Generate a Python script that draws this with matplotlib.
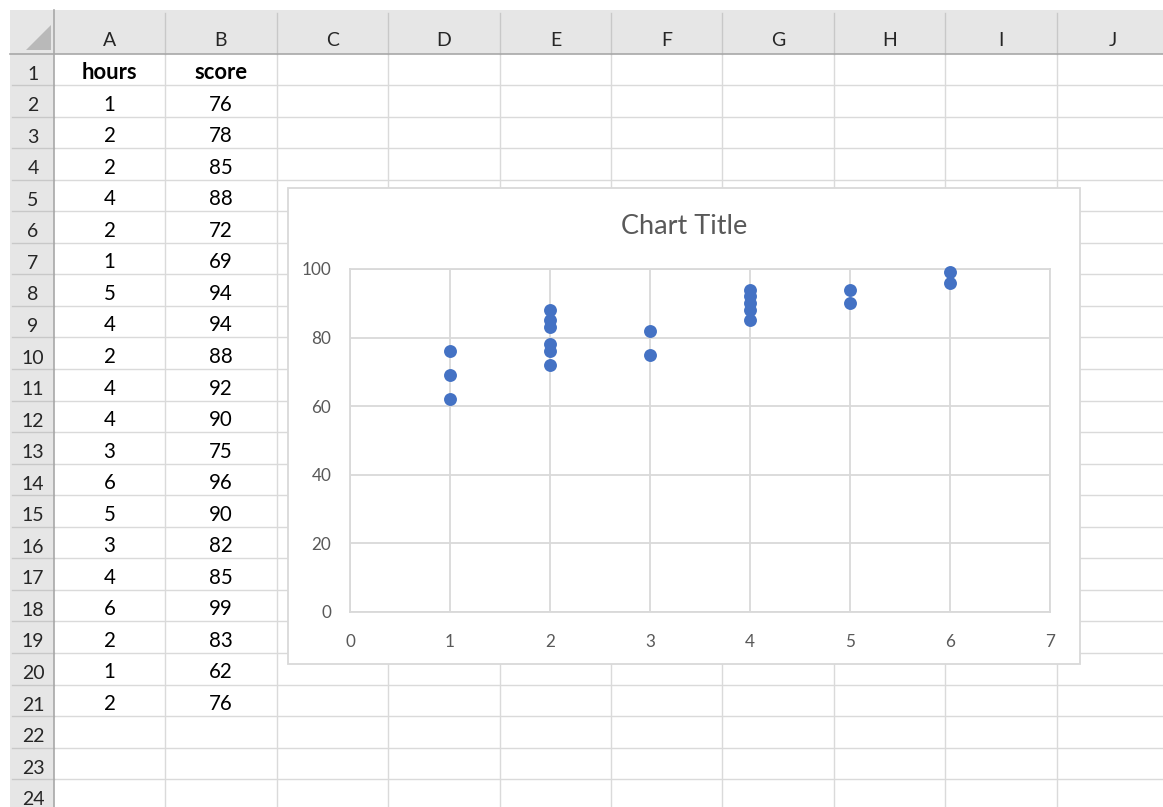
import matplotlib
matplotlib.use("Agg")
import matplotlib.pyplot as plt
from matplotlib.patches import Rectangle, Polygon

# Worksheet contents
col_letters = ["A", "B", "C", "D", "E", "F", "G", "H", "I", "J"]
header_row = ["hours", "score"]
hours = [1, 2, 2, 4, 2, 1, 5, 4, 2, 4, 4, 3, 6, 5, 3, 4, 6, 2, 1, 2]
score = [76, 78, 85, 88, 72, 69, 94, 94, 88, 92, 90, 75, 96, 90, 82, 85, 99, 83, 62, 76]
n_rows = 24
x_ticks = [0, 1, 2, 3, 4, 5, 6, 7]
y_ticks = [0, 20, 40, 60, 80, 100]
chart_title = "Chart Title"

W, H = 1163, 807
FONT = ["Lato", "DejaVu Sans"]

fig = plt.figure(figsize=(W / 100, H / 100), dpi=100)
fig.patch.set_facecolor("white")

# Sheet layer in pixel coordinates
sheet = fig.add_axes([0, 0, 1, 1])
sheet.set_xlim(0, W)
sheet.set_ylim(H, 0)
sheet.axis("off")

col_edges = [54, 165, 277, 388, 500, 611, 722, 834, 945, 1057, 1168]
left_edge = 10
top_edge = 10
hdr_bottom = 53.5
row_h = 31.55
row_edges = [hdr_bottom + i * row_h for i in range(n_rows + 1)]

grid_c = "#dadada"
hdr_fill = "#e6e6e6"
hdr_line = "#c8c8c8"
hdr_dark = "#a8a8a8"

# header bands
sheet.add_patch(Rectangle((left_edge, top_edge), W - left_edge, hdr_bottom - top_edge,
                          facecolor=hdr_fill, edgecolor="none", zorder=1))
sheet.add_patch(Rectangle((left_edge, hdr_bottom), col_edges[0] - left_edge, H - hdr_bottom,
                          facecolor=hdr_fill, edgecolor="none", zorder=1))
# corner triangle
sheet.add_patch(Polygon([[51, 25], [51, 50], [26, 50]], closed=True,
                        facecolor="#b9b9b9", edgecolor="none", zorder=2))

# cell gridlines
for x in col_edges[1:]:
    sheet.plot([x, x], [hdr_bottom, H], color=grid_c, lw=1.0, zorder=1.5)
    sheet.plot([x, x], [top_edge + 3, hdr_bottom], color=hdr_line, lw=1.0, zorder=1.5)
for y in row_edges[1:]:
    sheet.plot([col_edges[0], W], [y, y], color=grid_c, lw=1.0, zorder=1.5)
    sheet.plot([left_edge + 2, col_edges[0]], [y, y], color=hdr_line, lw=1.0, zorder=1.5)
sheet.plot([left_edge, W], [hdr_bottom, hdr_bottom], color=hdr_dark, lw=1.2, zorder=1.6)
sheet.plot([col_edges[0], col_edges[0]], [top_edge, H], color=hdr_dark, lw=1.2, zorder=1.6)

# column letters
for i, letter in enumerate(col_letters):
    cx = (col_edges[i] + col_edges[i + 1]) / 2
    sheet.text(cx, hdr_bottom - 7, letter, ha="center", va="baseline",
               fontsize=14, color="#262626", family=FONT, zorder=3)

# row numbers
for r in range(n_rows):
    cy = row_edges[r + 1] - 5.5
    sheet.text((left_edge + col_edges[0]) / 2 + 1, cy, str(r + 1), ha="center",
               va="baseline", fontsize=14, color="#262626", family=FONT, zorder=3)

# cell values
ca = (col_edges[0] + col_edges[1]) / 2
cb = (col_edges[1] + col_edges[2]) / 2
sheet.text(ca, row_edges[1] - 6, header_row[0], ha="center", va="baseline",
           fontsize=15.8, fontweight="bold", color="black", family=FONT, zorder=3)
sheet.text(cb, row_edges[1] - 6, header_row[1], ha="center", va="baseline",
           fontsize=15.8, fontweight="bold", color="black", family=FONT, zorder=3)
for i, (h, s) in enumerate(zip(hours, score)):
    y = row_edges[i + 2] - 6
    sheet.text(ca, y, str(h), ha="center", va="baseline", fontsize=14.8,
               color="black", family=FONT, zorder=3)
    sheet.text(cb, y, str(s), ha="center", va="baseline", fontsize=14.8,
               color="black", family=FONT, zorder=3)

# chart frame
sheet.add_patch(Rectangle((288, 188), 1080 - 288, 664 - 188, facecolor="white",
                          edgecolor="#d9d9d9", lw=1.3, zorder=5))
sheet.text(684, 226, chart_title, ha="center", va="center", fontsize=19.5,
           color="#595959", family=FONT, zorder=6)

# scatter chart
px0, px1, py0, py1 = 350, 1050, 269, 612
ax = fig.add_axes([px0 / W, 1 - py1 / H, (px1 - px0) / W, (py1 - py0) / H])
ax.set_zorder(10)
ax.patch.set_alpha(0)
ax.set_xlim(0, 7)
ax.set_ylim(0, 100)
ax.set_xticks(x_ticks)
ax.set_yticks(y_ticks)
ax.grid(True, color="#d9d9d9", lw=1.3)
ax.set_axisbelow(True)
for sp in ax.spines.values():
    sp.set_color("#d9d9d9")
    sp.set_linewidth(1.3)
ax.tick_params(length=0, labelsize=12.3, labelcolor="#595959")
ax.tick_params(axis="y", pad=13.5)
ax.tick_params(axis="x", pad=16)
for lab in ax.get_xticklabels() + ax.get_yticklabels():
    lab.set_family(FONT)
ax.plot(hours, score, "o", color="#4472c4", markersize=9.3, markeredgewidth=0,
        clip_on=False, zorder=3)

fig.savefig("out.png", dpi=100)
